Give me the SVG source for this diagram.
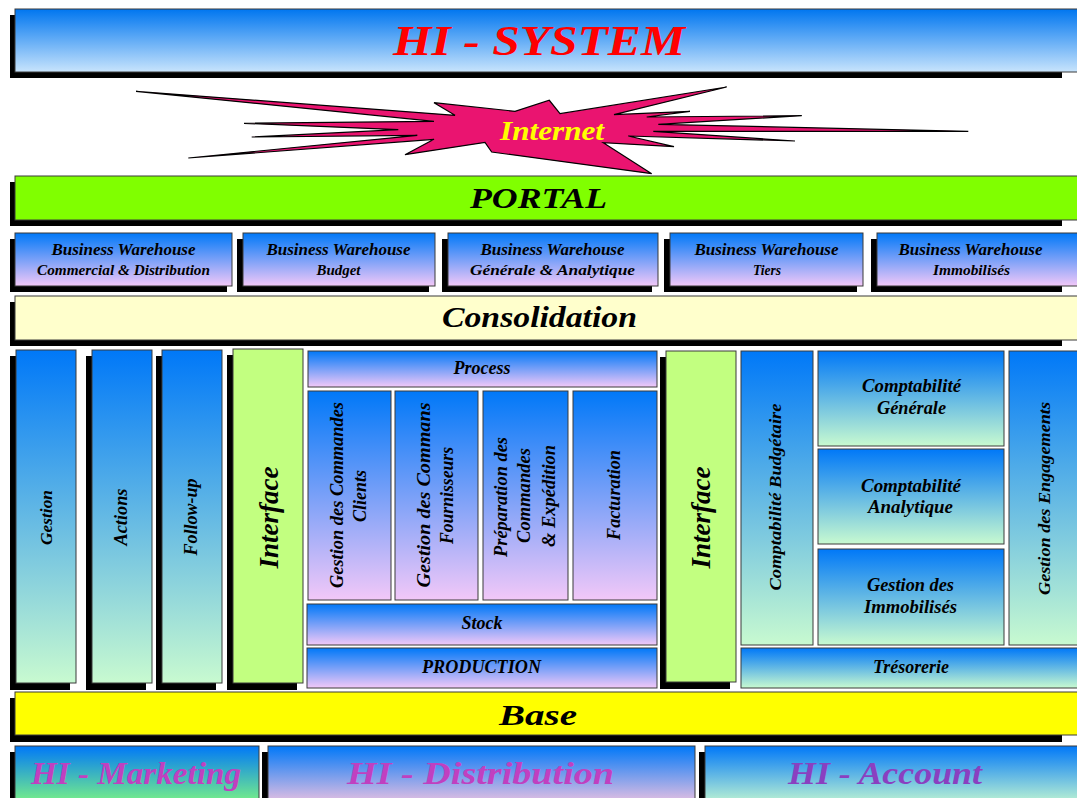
<svg xmlns="http://www.w3.org/2000/svg" width="1077" height="798" viewBox="0 0 1077 798">
<defs>
<linearGradient id="gTitle" x1="0" y1="0" x2="0" y2="1"><stop offset="0" stop-color="#0076F0"/><stop offset="1" stop-color="#C8E4FC"/></linearGradient>
<linearGradient id="gPink" x1="0" y1="0" x2="0" y2="1"><stop offset="0" stop-color="#0078F8"/><stop offset="1" stop-color="#F2C8F8"/></linearGradient>
<linearGradient id="gGreen" x1="0" y1="0" x2="0" y2="1"><stop offset="0" stop-color="#0078F8"/><stop offset="1" stop-color="#C8FAD0"/></linearGradient>
<linearGradient id="gMkt" x1="0" y1="0" x2="0" y2="1"><stop offset="0" stop-color="#0078F8"/><stop offset="1" stop-color="#80F880"/></linearGradient>
<linearGradient id="gDist" x1="0" y1="0" x2="0" y2="1"><stop offset="0" stop-color="#0078F8"/><stop offset="1" stop-color="#F4C4E0"/></linearGradient>
</defs>
<style>
.sh{fill:#000}
.bx{stroke:#3a3a3a;stroke-width:1}
.t{font-family:"Liberation Serif","Times New Roman",serif;font-weight:bold;font-style:italic;fill:#000;text-anchor:middle}
.s18{font-size:18px}
.s17{font-size:17px}
.s15{font-size:15px}
.big{font-size:30px}
.hi{font-size:32px}
</style>

<g id="title">
<rect class="sh" x="10" y="15" width="1052" height="63"/>
<rect class="bx" x="15" y="9" width="1070" height="63" fill="url(#gTitle)"/>
<text class="t" x="539" y="55" font-size="43" style="fill:#FF0000" textLength="292" lengthAdjust="spacingAndGlyphs">HI - SYSTEM</text>
</g>

<g id="internet">
<polygon points="136,91.3 455,115.3 434,102.7 515,111.3 549.3,100.3 560,113.7 726.7,87 614,114.7 690,111.3 646.7,117 801.7,115.7 658.3,124.3 968.3,131.3 653.3,131.3 795,141 628.3,136 674,146.7 603.3,142.7 651.7,173.7 491.7,152 485,142.5 405,154.7 434,139.3 188.3,158 417.3,135.3 251.7,137 398.3,129.7 244,123.3 434,121.3" fill="#EA1470" stroke="#000" stroke-width="1.2" stroke-linejoin="miter"/>
<text class="t" x="552" y="140" font-size="28" style="fill:#FFFF00" textLength="104" lengthAdjust="spacingAndGlyphs">Internet</text>
</g>

<g id="portal">
<rect class="sh" x="10" y="182" width="1052" height="44"/>
<rect class="bx" x="15" y="176" width="1070" height="44" fill="#80FF00"/>
<text class="t big" x="538.5" y="208" textLength="137" lengthAdjust="spacingAndGlyphs">PORTAL</text>
</g>

<g id="bw1">
<rect class="sh" x="10" y="239" width="217" height="53"/>
<rect class="bx" x="15" y="233" width="217" height="53" fill="url(#gPink)"/>
<text class="t s17" x="123.5" y="255" textLength="144" lengthAdjust="spacingAndGlyphs">Business Warehouse</text>
<text class="t s15" x="123.5" y="275" textLength="173" lengthAdjust="spacingAndGlyphs">Commercial &amp; Distribution</text>
</g>
<g id="bw2">
<rect class="sh" x="237" y="239" width="192" height="53"/>
<rect class="bx" x="243" y="233" width="192" height="53" fill="url(#gPink)"/>
<text class="t s17" x="338.5" y="255" textLength="144" lengthAdjust="spacingAndGlyphs">Business Warehouse</text>
<text class="t s15" x="338.5" y="275" textLength="44" lengthAdjust="spacingAndGlyphs">Budget</text>
</g>
<g id="bw3">
<rect class="sh" x="442" y="239" width="210" height="53"/>
<rect class="bx" x="448" y="233" width="210" height="53" fill="url(#gPink)"/>
<text class="t s17" x="552.5" y="255" textLength="144" lengthAdjust="spacingAndGlyphs">Business Warehouse</text>
<text class="t s15" x="552.5" y="275" textLength="165" lengthAdjust="spacingAndGlyphs">Générale &amp; Analytique</text>
</g>
<g id="bw4">
<rect class="sh" x="664" y="239" width="193" height="53"/>
<rect class="bx" x="670" y="233" width="193" height="53" fill="url(#gPink)"/>
<text class="t s17" x="766.5" y="255" textLength="144" lengthAdjust="spacingAndGlyphs">Business Warehouse</text>
<text class="t s15" x="767" y="275" textLength="28" lengthAdjust="spacingAndGlyphs">Tiers</text>
</g>
<g id="bw5">
<rect class="sh" x="871" y="239" width="191" height="53"/>
<rect class="bx" x="877" y="233" width="208" height="53" fill="url(#gPink)"/>
<text class="t s17" x="970.5" y="255" textLength="144" lengthAdjust="spacingAndGlyphs">Business Warehouse</text>
<text class="t s15" x="971.5" y="275" textLength="77" lengthAdjust="spacingAndGlyphs">Immobilisés</text>
</g>

<g id="consolidation">
<rect class="sh" x="10" y="302" width="1052" height="44"/>
<rect class="bx" x="15" y="296" width="1070" height="44" fill="#FFFFCC"/>
<text class="t big" x="539.5" y="327" textLength="195" lengthAdjust="spacingAndGlyphs">Consolidation</text>
</g>

<g id="gestion">
<rect class="sh" x="10" y="356" width="60" height="334"/>
<rect class="bx" x="16" y="350" width="60" height="333" fill="url(#gGreen)"/>
<text class="t s17" transform="translate(51.5,517.5) rotate(-90)" textLength="55" lengthAdjust="spacingAndGlyphs">Gestion</text>
</g>
<g id="actions">
<rect class="sh" x="86" y="356" width="60" height="334"/>
<rect class="bx" x="92" y="350" width="60" height="333" fill="url(#gGreen)"/>
<text class="t s18" transform="translate(126.5,517) rotate(-90)" textLength="57" lengthAdjust="spacingAndGlyphs">Actions</text>
</g>
<g id="followup">
<rect class="sh" x="156" y="356" width="60" height="334"/>
<rect class="bx" x="162" y="350" width="60" height="333" fill="url(#gGreen)"/>
<text class="t s18" transform="translate(197,517) rotate(-90)" textLength="77" lengthAdjust="spacingAndGlyphs">Follow-up</text>
</g>
<g id="interface1">
<rect class="sh" x="227" y="355" width="70" height="335"/>
<rect class="bx" x="233" y="349" width="70" height="334" fill="#C2FF80"/>
<text class="t" font-size="27" transform="translate(278,517.5) rotate(-90)" textLength="102" lengthAdjust="spacingAndGlyphs">Interface</text>
</g>

<g id="process">
<rect class="bx" x="308" y="351" width="349" height="36" fill="url(#gPink)"/>
<text class="t s18" x="482" y="374" textLength="57" lengthAdjust="spacingAndGlyphs">Process</text>
</g>
<g id="cmdclients">
<rect class="bx" x="308" y="391" width="83" height="209" fill="url(#gPink)"/>
<text class="t s18" transform="translate(343,495) rotate(-90)" textLength="186" lengthAdjust="spacingAndGlyphs">Gestion des Commandes</text>
<text class="t s18" transform="translate(366,496) rotate(-90)" textLength="52" lengthAdjust="spacingAndGlyphs">Clients</text>
</g>
<g id="cmdfourn">
<rect class="bx" x="395" y="391" width="83" height="209" fill="url(#gPink)"/>
<text class="t s18" transform="translate(430,495) rotate(-90)" textLength="185" lengthAdjust="spacingAndGlyphs">Gestion des Commans</text>
<text class="t s18" transform="translate(453,495.5) rotate(-90)" textLength="97" lengthAdjust="spacingAndGlyphs">Fournisseurs</text>
</g>
<g id="preparation">
<rect class="bx" x="483" y="391" width="85" height="209" fill="url(#gPink)"/>
<text class="t s18" transform="translate(507,497) rotate(-90)" textLength="120" lengthAdjust="spacingAndGlyphs">Préparation des</text>
<text class="t s18" transform="translate(530,495.5) rotate(-90)" textLength="95" lengthAdjust="spacingAndGlyphs">Commandes</text>
<text class="t s18" transform="translate(555,496) rotate(-90)" textLength="102" lengthAdjust="spacingAndGlyphs">&amp; Expédition</text>
</g>
<g id="facturation">
<rect class="bx" x="573" y="391" width="84" height="209" fill="url(#gPink)"/>
<text class="t s18" transform="translate(620,495) rotate(-90)" textLength="90" lengthAdjust="spacingAndGlyphs">Facturation</text>
</g>
<g id="stock">
<rect class="bx" x="307" y="604" width="350" height="41" fill="url(#gPink)"/>
<text class="t s18" x="482" y="629" textLength="41" lengthAdjust="spacingAndGlyphs">Stock</text>
</g>
<g id="production">
<rect class="bx" x="307" y="648" width="350" height="40" fill="url(#gPink)"/>
<text class="t s18" x="481.5" y="673" textLength="119" lengthAdjust="spacingAndGlyphs">PRODUCTION</text>
</g>

<g id="interface2">
<rect class="sh" x="660" y="357" width="70" height="332"/>
<rect class="bx" x="666" y="351" width="70" height="331" fill="#C2FF80"/>
<text class="t" font-size="27" transform="translate(710,517.5) rotate(-90)" textLength="102" lengthAdjust="spacingAndGlyphs">Interface</text>
</g>
<g id="comptabudget">
<rect class="bx" x="741" y="351" width="72" height="294" fill="url(#gGreen)"/>
<text class="t s17" transform="translate(781,497) rotate(-90)" textLength="187" lengthAdjust="spacingAndGlyphs">Comptabilité Budgétaire</text>
</g>
<g id="comptagen">
<rect class="bx" x="818" y="351" width="186" height="95" fill="url(#gGreen)"/>
<text class="t s18" x="911.5" y="392" textLength="99" lengthAdjust="spacingAndGlyphs">Comptabilité</text>
<text class="t s18" x="911.5" y="414" textLength="69" lengthAdjust="spacingAndGlyphs">Générale</text>
</g>
<g id="comptaana">
<rect class="bx" x="818" y="449" width="186" height="95" fill="url(#gGreen)"/>
<text class="t s18" x="911" y="492" textLength="100" lengthAdjust="spacingAndGlyphs">Comptabilité</text>
<text class="t s18" x="910.5" y="513" textLength="85" lengthAdjust="spacingAndGlyphs">Analytique</text>
</g>
<g id="immobilises">
<rect class="bx" x="818" y="549" width="186" height="96" fill="url(#gGreen)"/>
<text class="t s18" x="910.5" y="591" textLength="87" lengthAdjust="spacingAndGlyphs">Gestion des</text>
<text class="t s18" x="910.5" y="613" textLength="93" lengthAdjust="spacingAndGlyphs">Immobilisés</text>
</g>
<g id="engagements">
<rect class="bx" x="1009" y="351" width="76" height="294" fill="url(#gGreen)"/>
<text class="t s17" transform="translate(1050,498.5) rotate(-90)" textLength="193" lengthAdjust="spacingAndGlyphs">Gestion des Engagements</text>
</g>
<g id="tresorerie">
<rect class="bx" x="741" y="648" width="344" height="40" fill="url(#gGreen)"/>
<text class="t s18" x="911" y="673" textLength="76" lengthAdjust="spacingAndGlyphs">Trésorerie</text>
</g>

<g id="base">
<rect class="sh" x="10" y="698" width="1052" height="44"/>
<rect class="bx" x="15" y="692" width="1070" height="43" fill="#FFFF00"/>
<text class="t big" x="538" y="725" textLength="78" lengthAdjust="spacingAndGlyphs">Base</text>
</g>

<g id="marketing">
<rect class="sh" x="10" y="752" width="244" height="60"/>
<rect class="bx" x="15" y="746" width="244" height="60" fill="url(#gMkt)"/>
<text class="t hi" x="136" y="784" style="fill:#C040C0" textLength="210" lengthAdjust="spacingAndGlyphs">HI - Marketing</text>
</g>
<g id="distribution">
<rect class="sh" x="262" y="752" width="427" height="60"/>
<rect class="bx" x="268" y="746" width="427" height="60" fill="url(#gDist)"/>
<text class="t hi" x="480.5" y="784" style="fill:#C040C0" textLength="267" lengthAdjust="spacingAndGlyphs">HI - Distribution</text>
</g>
<g id="account">
<rect class="sh" x="699" y="752" width="380" height="60"/>
<rect class="bx" x="705" y="746" width="380" height="60" fill="url(#gGreen)"/>
<text class="t hi" x="885" y="784" style="fill:#8A40C0" textLength="194" lengthAdjust="spacingAndGlyphs">HI - Account</text>
</g>

<g id="connectors"></g>
</svg>
